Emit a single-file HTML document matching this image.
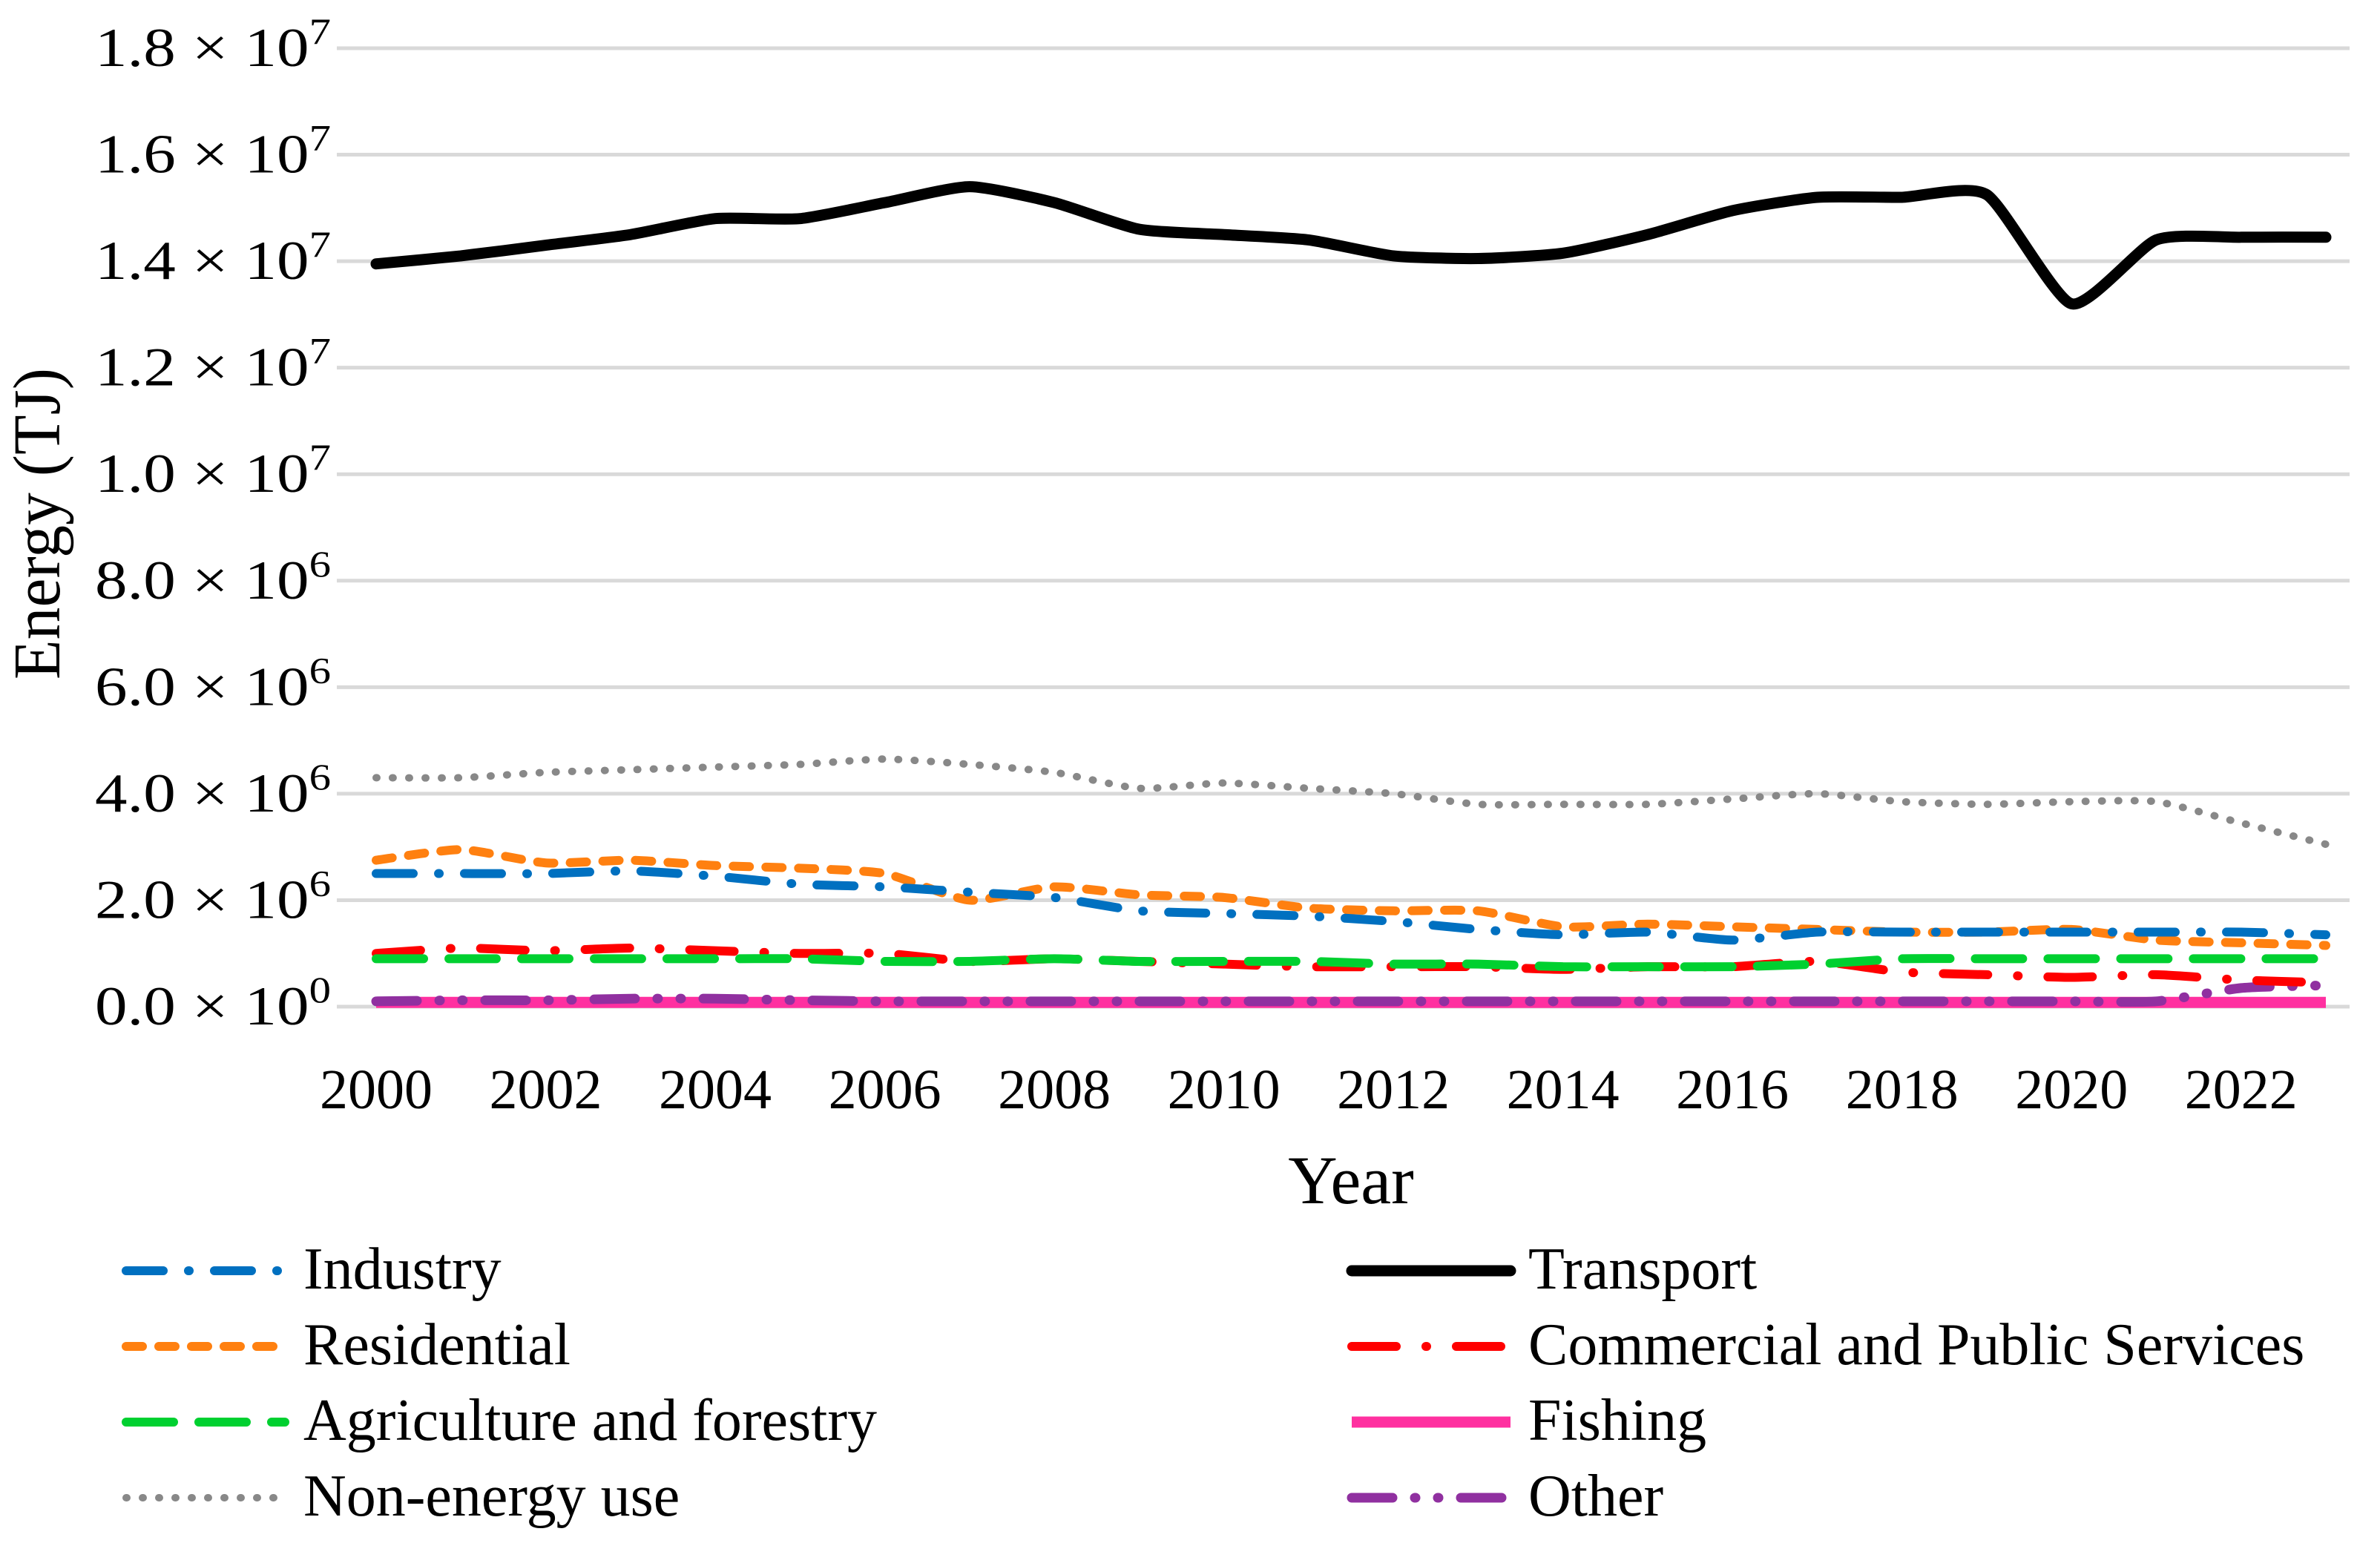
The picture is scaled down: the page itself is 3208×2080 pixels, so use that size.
<!DOCTYPE html>
<html><head><meta charset="utf-8"><style>
html,body{margin:0;padding:0;background:#fff;}
svg{display:block;font-family:"Liberation Serif",serif;}
</style></head><body>
<svg id="chart" width="3208" height="2080" viewBox="0 0 3208 2080" xmlns="http://www.w3.org/2000/svg">
<g id="grid"></g>
<g id="yt"></g>
<g id="xt"></g>
<g id="series"></g>
<text transform="translate(80,706) rotate(-90)" text-anchor="middle" font-size="90" textLength="420" lengthAdjust="spacingAndGlyphs">Energy (TJ)</text>
<text x="1821" y="1622" text-anchor="middle" font-size="92">Year</text>
<g id="legend"></g>
</svg>
<script>
const years=[2000,2001,2002,2003,2004,2005,2006,2007,2008,2009,2010,2011,2012,2013,2014,2015,2016,2017,2018,2019,2020,2021,2022,2023];
const xTickLabels=["2000","2002","2004","2006","2008","2010","2012","2014","2016","2018","2020","2022"];
const yTickMantissa=["0.0","2.0","4.0","6.0","8.0","1.0","1.2","1.4","1.6","1.8"];
const yTickExp=["0","6","6","6","6","7","7","7","7","7"];
const yTickValues=[0,2e6,4e6,6e6,8e6,1e7,1.2e7,1.4e7,1.6e7,1.8e7];
const industry=[2.5,2.5,2.5,2.55,2.45,2.3,2.25,2.15,2.05,1.8,1.75,1.7,1.6,1.45,1.35,1.4,1.25,1.4,1.4,1.4,1.4,1.4,1.4,1.35];
const residential=[2.75,2.95,2.7,2.75,2.65,2.6,2.5,2.0,2.25,2.1,2.05,1.85,1.8,1.8,1.5,1.55,1.5,1.45,1.4,1.4,1.45,1.25,1.2,1.15];
const agriculture=[0.9,0.9,0.9,0.9,0.9,0.9,0.85,0.85,0.9,0.85,0.85,0.85,0.8,0.8,0.75,0.75,0.75,0.8,0.9,0.9,0.9,0.9,0.9,0.9];
const nonEnergy=[4.3,4.3,4.4,4.45,4.5,4.55,4.65,4.55,4.4,4.1,4.2,4.1,4.0,3.8,3.8,3.8,3.9,4.0,3.85,3.8,3.85,3.85,3.45,3.05];
const transport=[13.95,14.1,14.3,14.5,14.8,14.8,15.1,15.4,15.1,14.6,14.5,14.4,14.1,14.05,14.15,14.5,14.95,15.2,15.2,15.25,13.2,14.4,14.45,14.45];
const commercial=[1.0,1.1,1.05,1.1,1.05,1.0,1.0,0.85,0.9,0.85,0.8,0.75,0.75,0.75,0.7,0.75,0.75,0.85,0.65,0.6,0.55,0.6,0.5,0.45];
const fishing=[0.08,0.08,0.08,0.08,0.08,0.08,0.08,0.08,0.08,0.08,0.08,0.08,0.08,0.08,0.08,0.08,0.08,0.08,0.08,0.08,0.08,0.08,0.08,0.08];
const other=[0.1,0.12,0.12,0.15,0.15,0.12,0.1,0.1,0.1,0.1,0.1,0.1,0.1,0.1,0.1,0.1,0.1,0.1,0.1,0.1,0.1,0.1,0.35,0.4];

const NS="http://www.w3.org/2000/svg";
const X0=507,X1=3135,Y0=1357,Y1=65;
function xs(yr){return X0+(yr-2000)*(X1-X0)/23;}
function ys(v){return Y0-v*(Y0-Y1)/1.8e7;}
function mk(t,a,p){const e=document.createElementNS(NS,t);for(const k in a)e.setAttribute(k,a[k]);p.appendChild(e);return e;}

const grid=document.getElementById('grid'),yt=document.getElementById('yt'),xt=document.getElementById('xt');
yTickValues.forEach((v,i)=>{
  const l=mk('line',{x1:454,x2:3167,y1:ys(v),y2:ys(v),stroke:'#d9d9d9','stroke-width':5},grid);
  
  
  const t=mk('text',{x:128,y:ys(v)+24,'font-size':74,textLength:318,lengthAdjust:'spacingAndGlyphs'},yt);
  
  
  t.textContent=yTickMantissa[i]+' \u00d7 10';
  const s=mk('tspan',{dy:-30,'font-size':50},t);
  s.textContent=yTickExp[i];
});
xTickLabels.forEach(lb=>{
  const t=mk('text',{x:xs(+lb),y:1494,'text-anchor':'middle','font-size':76},xt);
  
  
  t.textContent=lb;
});
function pathD(vals){
  const p=vals.map((v,i)=>[xs(years[i]),ys(v*1e6)]);
  let d='M'+p[0][0]+','+p[0][1];
  for(let i=0;i<p.length-1;i++){
    const a=p[Math.max(0,i-1)],b=p[i],c=p[i+1],e=p[Math.min(p.length-1,i+2)];
    const c1=[b[0]+(c[0]-a[0])/10,b[1]+(c[1]-a[1])/10],c2=[c[0]-(e[0]-b[0])/10,c[1]-(e[1]-b[1])/10];
    d+=' C'+c1+' '+c2+' '+c;
  }
  return d;
}
const styles={
  industry:{c:'#0070c0',w:12,dash:'50 34 1 34',cap:'round'},
  residential:{c:'#ff8010',w:12,dash:'22 22',cap:'round'},
  agriculture:{c:'#00d030',w:12,dash:'64 34',cap:'round'},
  nonEnergy:{c:'#888',w:10,dash:'1 21',cap:'round'},
  transport:{c:'#000',w:15,dash:'none',cap:'round'},
  commercial:{c:'#ff0000',w:12,dash:'60 40 1 40',cap:'round'},
  fishing:{c:'#ff30a0',w:15,dash:'none',cap:'butt'},
  other:{c:'#9030a0',w:13,dash:'55 30 1 30 1 30',cap:'round'}
};
const sg=document.getElementById('series');
const order=[['fishing',fishing],['other',other],['nonEnergy',nonEnergy],['residential',residential],['industry',industry],['commercial',commercial],['agriculture',agriculture],['transport',transport]];
order.forEach(([k,vals])=>{
  const s=styles[k];
  const p=mk('path',{d:pathD(vals),fill:'none',stroke:s.c,'stroke-width':s.w,'stroke-dasharray':s.dash,'stroke-linecap':s.cap,'stroke-linejoin':'round'},sg);
  
  
});
const lg=document.getElementById('legend');
const entries=[['industry','Industry',0,0],['residential','Residential',0,1],['agriculture','Agriculture and forestry',0,2],['nonEnergy','Non-energy use',0,3],
['transport','Transport',1,0],['commercial','Commercial and Public Services',1,1],['fishing','Fishing',1,2],['other','Other',1,3]];
entries.forEach(([k,label,col,row])=>{
  const s=styles[k];const y=1713+row*102;const lx=col?1822:170;
  const g=mk('g',{},lg);
  
  
  mk('line',{x1:lx,x2:lx+214,y1:y,y2:y,stroke:s.c,'stroke-width':s.w,'stroke-dasharray':s.dash,'stroke-linecap':s.cap},g);
  const t=mk('text',{x:col?2060:409,y:y+24,'font-size':80},g);
  t.textContent=label;
});
</script>
</body></html>
